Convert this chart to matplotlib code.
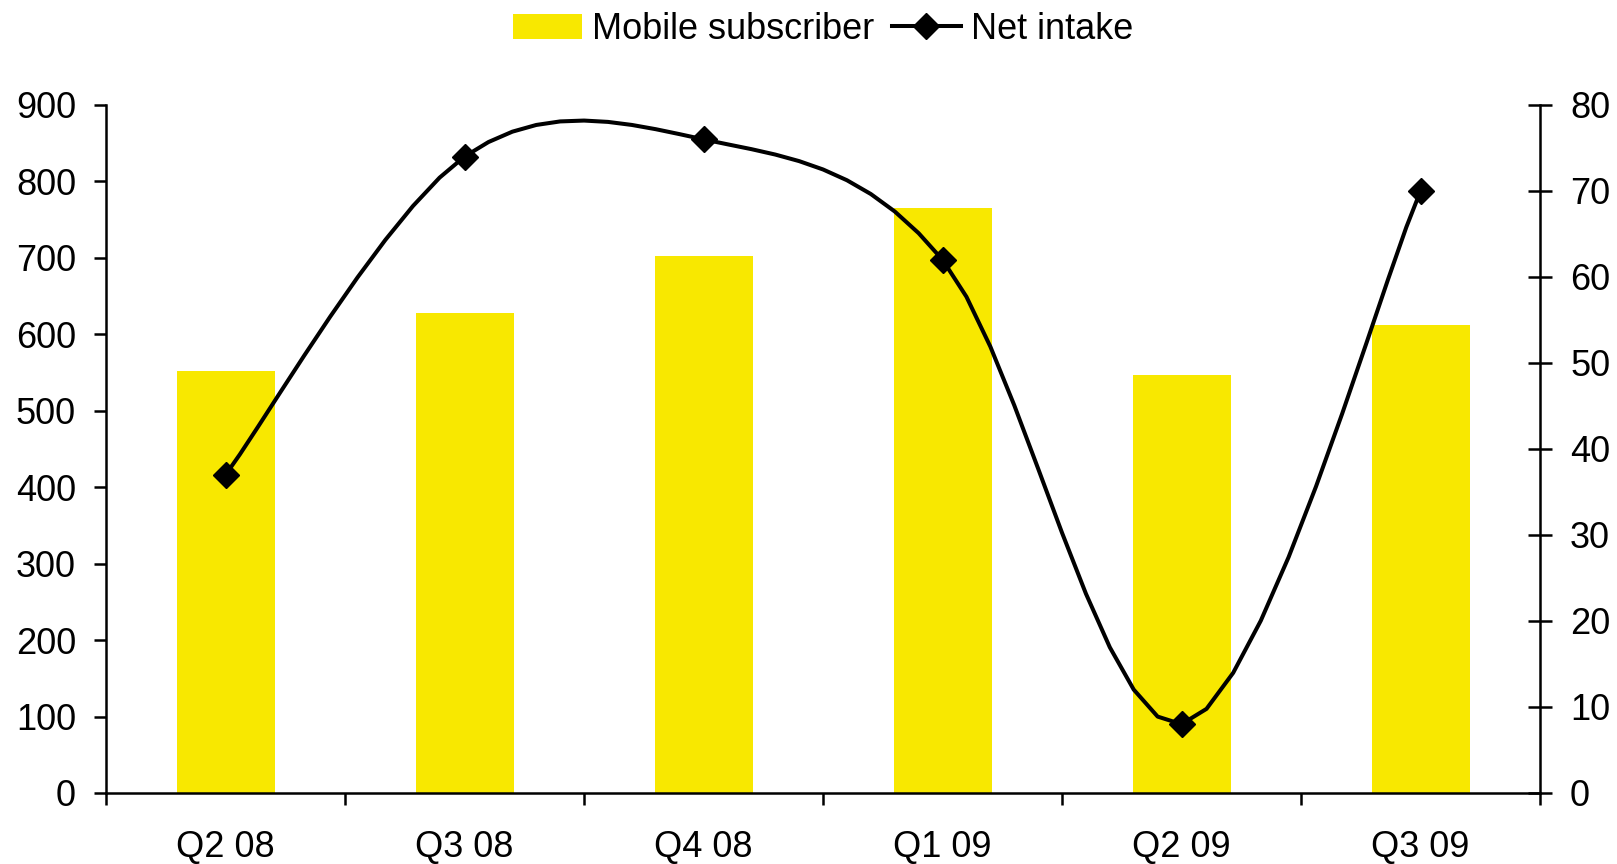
import numpy as np
import matplotlib
matplotlib.use('Agg')
import matplotlib.pyplot as plt
from matplotlib.lines import Line2D
from matplotlib.patches import Patch

quarters = ['Q2 08', 'Q3 08', 'Q4 08', 'Q1 09', 'Q2 09', 'Q3 09']
subscribers = [552, 628, 702, 765, 547, 612]   # left axis
net_intake = [37, 74, 76, 62, 8, 70]           # right axis

bar_yellow = '#F8E800'

plt.rcParams['font.family'] = ['Liberation Sans', 'DejaVu Sans']
plt.rcParams['font.size'] = 26


def smooth_line(xs, ys, steps=10):
    """bezier curve through the points, control points like a spreadsheet smoothed line"""
    pts = np.column_stack([xs, ys]).astype(float)
    n = len(pts)
    out = [pts[0]]
    for i in range(n - 1):
        p_prev = pts[i - 1] if i > 0 else pts[i]
        p_next = pts[i + 2] if i + 2 < n else pts[i + 1]
        p0, p3 = pts[i], pts[i + 1]
        c1 = p0 + (p3 - p_prev) / 6.0
        c2 = p3 - (p_next - p0) / 6.0
        for t in np.linspace(0, 1, steps + 1)[1:]:
            b = ((1 - t) ** 3) * p0 + 3 * ((1 - t) ** 2) * t * c1 \
                + 3 * (1 - t) * t ** 2 * c2 + t ** 3 * p3
            out.append(b)
    out = np.array(out)
    return out[:, 0], out[:, 1]


fig = plt.figure(figsize=(16.17, 8.64), dpi=100)
ax = fig.add_axes([0.0656, 0.0822, 0.8868, 0.7963])
x = np.arange(len(quarters))

ax.bar(x, subscribers, width=0.41, color=bar_yellow, zorder=2)
ax.set_xlim(-0.5, len(quarters) - 0.5)
ax.set_ylim(0, 900)
ax.set_yticks(np.arange(0, 901, 100))

# category labels in the middle, tick marks on the boundaries
ax.set_xticks(x)
ax.set_xticklabels(quarters)
ax.set_xticks(np.arange(-0.5, len(quarters), 1.0), minor=True)
ax.tick_params(axis='x', which='major', length=0, pad=27)
ax.tick_params(axis='x', which='minor', length=12 * 0.72, width=1.8, direction='out')
ax.tick_params(axis='y', length=12 * 0.72, width=1.8, direction='out', pad=13)

for side in ['top', 'right']:
    ax.spines[side].set_visible(False)
for side in ['left', 'bottom']:
    ax.spines[side].set_linewidth(1.8)

ax2 = ax.twinx()
ax2.set_ylim(0, 80)
ax2.set_yticks(np.arange(0, 81, 10))
ax2.tick_params(axis='y', length=24 * 0.72, width=1.8, direction='inout', pad=13)
for side in ['top', 'left', 'bottom']:
    ax2.spines[side].set_visible(False)
ax2.spines['right'].set_linewidth(1.8)

sx, sy = smooth_line(x, net_intake)
ax2.plot(sx, sy, color='black', linewidth=2.9, solid_joinstyle='round')
ax2.plot(x, net_intake, linestyle='none', marker='D', markersize=13, color='black')

handles = [Patch(facecolor=bar_yellow, edgecolor='none', label='Mobile subscriber'),
           Line2D([], [], color='black', linewidth=2.9, marker='D', markersize=13,
                  label='Net intake')]
ax2.legend(handles=handles, loc='center', bbox_to_anchor=(0.5, 1.11), ncol=2,
           frameon=False, handlelength=1.9, handletextpad=0.28, columnspacing=0.5,
           borderaxespad=0)

fig.savefig('out.png', dpi=100)
